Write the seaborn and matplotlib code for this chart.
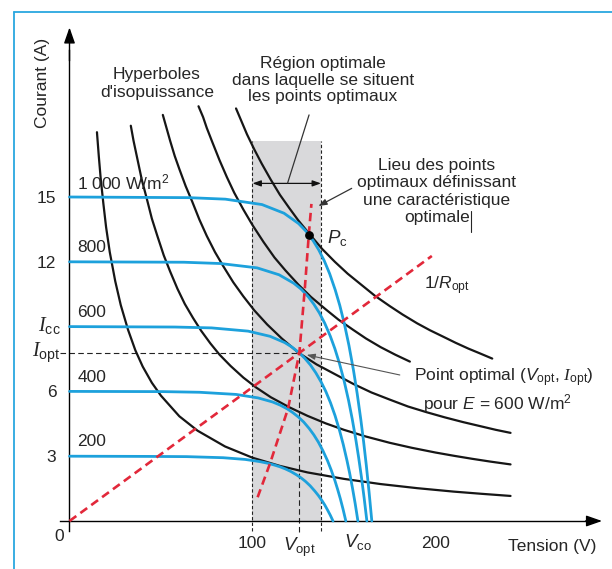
import numpy as np
import pandas as pd
import matplotlib
matplotlib.use('Agg')
import matplotlib.pyplot as plt
import seaborn as sns
from matplotlib.lines import Line2D

# ---------------- data ----------------
# I-V characteristics (voltage V, current A) for each irradiance
iv_names = ['1 000 W/m$^2$', '800', '600', '400', '200']
iv_isc = [15, 12, 9, 6, 3]
v_1000 = [0, 65.2, 85.2, 105.2, 117.2, 125.2, 129.2, 133.2, 136.2, 139.2, 142.2, 145.2, 147.7, 150.2, 152.7, 155.2, 157.2, 159.2, 160.7, 162.2, 163.7, 165.2]
i_1000 = [15, 14.97, 14.90, 14.65, 14.25, 13.77, 13.42, 12.97, 12.55, 12.05, 11.44, 10.70, 9.98, 9.13, 8.13, 6.97, 5.90, 4.69, 3.68, 2.57, 1.34, 0]
v_800 = [0, 62.5, 82.5, 102.5, 114.5, 122.5, 126.5, 130.5, 133.5, 136.5, 139.5, 142.5, 145, 147.5, 150, 152.5, 154.5, 156.5, 158, 159.5, 161, 162.5]
i_800 = [12, 11.98, 11.92, 11.72, 11.40, 11.01, 10.74, 10.38, 10.04, 9.64, 9.15, 8.56, 7.98, 7.30, 6.51, 5.58, 4.72, 3.75, 2.94, 2.05, 1.07, 0]
v_600 = [0, 57.6, 77.6, 97.6, 109.6, 117.6, 121.6, 125.6, 128.6, 131.6, 134.6, 137.6, 140.1, 142.6, 145.1, 147.6, 149.6, 151.6, 153.1, 154.6, 156.1, 157.6]
i_600 = [9, 8.98, 8.94, 8.79, 8.55, 8.26, 8.05, 7.78, 7.53, 7.23, 6.86, 6.42, 5.99, 5.48, 4.88, 4.18, 3.54, 2.81, 2.21, 1.54, 0.81, 0]
v_400 = [0, 51, 71, 91, 103, 111, 115, 119, 122, 125, 128, 131, 133.5, 136, 138.5, 141, 143, 145, 146.5, 148, 149.5, 151]
i_400 = [6, 5.99, 5.96, 5.86, 5.70, 5.51, 5.37, 5.19, 5.02, 4.82, 4.58, 4.28, 3.99, 3.65, 3.25, 2.79, 2.36, 1.88, 1.47, 1.03, 0.54, 0]
v_200 = [0, 44, 64, 84, 96, 104, 108, 112, 115, 118, 121, 124, 126.5, 129, 131.5, 134, 136, 138, 139.5, 141, 142.5, 144]
i_200 = [3, 2.99, 2.98, 2.93, 2.85, 2.75, 2.68, 2.59, 2.51, 2.41, 2.29, 2.14, 2.00, 1.83, 1.63, 1.39, 1.18, 0.94, 0.74, 0.51, 0.27, 0]

# iso-power hyperbolas
h1_v = [15, 16, 17, 18.5, 20, 22, 25, 28, 32, 36, 40, 45, 50, 60, 70, 85, 100, 115, 130, 150, 170, 190, 210, 225, 241]
h1_i = [18.0, 16.9, 15.9, 14.7, 13.6, 12.45, 11.1, 10.0, 8.85, 7.9, 7.15, 6.4, 5.8, 4.85, 4.18, 3.45, 2.93, 2.55, 2.25, 1.95, 1.71, 1.52, 1.36, 1.26, 1.16]
h2_v = [33.5, 35, 37, 39.5, 42, 45, 48, 51.5, 55, 59, 63, 67.5, 72, 77, 82, 88, 95, 102, 110, 120, 130, 140, 150, 162, 175, 187, 200, 210, 220, 230, 241]
h2_i = [18.3, 17.6, 16.8, 15.8, 15.0, 14.0, 13.2, 12.3, 11.55, 10.75, 10.05, 9.4, 8.8, 8.22, 7.7, 7.18, 6.64, 6.18, 5.73, 5.27, 4.87, 4.52, 4.22, 3.91, 3.62, 3.39, 3.17, 3.02, 2.88, 2.75, 2.62]
h3_v = [51, 53, 55, 57.5, 60, 63.5, 67, 71, 75, 79.5, 84, 89.5, 95, 101, 108, 116, 125, 135, 145, 155, 165, 175, 185, 195, 205, 215, 225, 233, 241]
h3_i = [18.8, 18.2, 17.6, 16.9, 16.3, 15.5, 14.8, 13.95, 13.2, 12.45, 11.8, 11.05, 10.4, 9.75, 9.1, 8.45, 7.8, 7.25, 6.8, 6.35, 5.95, 5.62, 5.3, 5.04, 4.8, 4.58, 4.38, 4.22, 4.08]
h4_v = [70.5, 73, 75, 78, 82, 86, 90, 95, 100, 106, 112, 118, 125, 132, 140, 147, 155, 162, 170, 178, 186]
h4_i = [19.2, 18.7, 18.2, 17.55, 16.7, 15.92, 15.2, 14.42, 13.7, 12.92, 12.2, 11.6, 10.95, 10.37, 9.8, 9.32, 8.85, 8.45, 8.05, 7.7, 7.38]
h5_v = [91, 94, 97, 101, 105, 110, 115, 120, 125, 131, 138, 145, 152, 160, 167, 175, 182, 190, 197, 205, 211, 218, 224, 231]
h5_i = [19.1, 18.5, 17.9, 17.2, 16.55, 15.8, 15.1, 14.5, 13.92, 13.3, 12.6, 12.0, 11.45, 10.9, 10.42, 9.95, 9.56, 9.15, 8.83, 8.5, 8.25, 7.98, 7.77, 7.52]

# optimal quantities
v_opt, i_opt = 125.6, 7.78
i_cc = 9
pc_v, pc_i = [130.8], [13.25]
ropt_v = [0, 198]
ropt_i = [0, 12.27]
locus_v = [102.8, 109.6, 119.4, 125.6, 128.6, 130.8, 132.2]
locus_i = [1.1, 2.67, 5.2, 7.78, 10.77, 13.3, 14.68]
region_v = [100, 137.4]
region_top = 17.6

x_ticks = [100, 200]
x_ticklabels = ['100', '200']
y_ticks = [3, 6, 12, 15]
y_ticklabels = ['3', '6', '12', '15']

# ---------------- style ----------------
sns.set_theme(style='white')
plt.rcParams['font.family'] = ['Liberation Sans', 'DejaVu Sans']
plt.rcParams['mathtext.fontset'] = 'custom'
plt.rcParams['mathtext.rm'] = 'Liberation Sans'
plt.rcParams['mathtext.it'] = 'Liberation Sans:italic'
plt.rcParams['mathtext.cal'] = 'Liberation Serif:italic'

BLUE = '#1DA1DC'
BLACK = '#161616'
RED = '#E2283A'
GRAY = '#D9D9DB'
TXT = '#262626'
FS = 12.5

fig = plt.figure(figsize=(6.12, 5.69), dpi=100)
ax = fig.add_axes([0.08366, 0.008436, 0.91201, 0.96801])
ax.set_xlim(-10, 295)
ax.set_ylim(-2, 23.5)
ax.set_facecolor('white')

# shaded optimal region
ax.fill_between(region_v, 0, region_top, color=GRAY, lw=0, zorder=0)
for xv in region_v:
    ax.plot([xv, xv], [-0.45, region_top], color='#222222', lw=0.8,
            ls=(0, (3, 2)), zorder=1)

# hyperbolas
for hv, hi in [(h1_v, h1_i), (h2_v, h2_i), (h3_v, h3_i), (h4_v, h4_i), (h5_v, h5_i)]:
    sns.lineplot(x=hv, y=hi, color=BLACK, lw=1.6, sort=False, estimator=None,
                 ax=ax, zorder=3)

# I-V curves
iv_v = [v_1000, v_800, v_600, v_400, v_200]
iv_i = [i_1000, i_800, i_600, i_400, i_200]
for vv, ii in zip(iv_v, iv_i):
    sns.lineplot(x=vv, y=ii, color=BLUE, lw=2.0, sort=False, estimator=None,
                 ax=ax, zorder=4)
for name, isc in zip(iv_names, iv_isc):
    ax.text(4.3, isc + 0.66, name, fontsize=FS, color=TXT, ha='left', va='center')

# optimal point guide lines
ax.plot([-5, v_opt], [i_opt, i_opt], color='#222222', lw=0.8, ls=(0, (5, 3)), zorder=2)
ax.plot([v_opt, v_opt], [-0.5, i_opt], color='#222222', lw=0.8, ls=(0, (5, 3)), zorder=2)

# red dashed lines
sns.lineplot(x=ropt_v, y=ropt_i, color=RED, lw=1.9, sort=False, estimator=None,
             ax=ax, zorder=5)
ax.lines[-1].set_dashes((3.2, 1.9))
sns.lineplot(x=locus_v, y=locus_i, color=RED, lw=1.9, sort=False, estimator=None,
             ax=ax, zorder=5)
ax.lines[-1].set_dashes((3.2, 1.9))

ax.scatter(pc_v, pc_i, s=28, color='black', zorder=6)

# axes lines
for s in ['top', 'right']:
    ax.spines[s].set_visible(False)
ax.spines['left'].set_position(('data', 0))
ax.spines['bottom'].set_position(('data', 0))
ax.spines['left'].set_bounds(-0.45, 21.8)
ax.spines['bottom'].set_bounds(-5.2, 284)
for s in ['left', 'bottom']:
    ax.spines[s].set_color('black')
    ax.spines[s].set_linewidth(1.0)
ax.annotate('', xy=(0, 22.85), xytext=(0, 21.3),
            arrowprops=dict(arrowstyle='-|>,head_length=0.8,head_width=0.28',
                            color='black', lw=1, mutation_scale=12,
                            shrinkA=0, shrinkB=0))
ax.annotate('', xy=(291, 0), xytext=(282, 0),
            arrowprops=dict(arrowstyle='-|>,head_length=0.8,head_width=0.28',
                            color='black', lw=1, mutation_scale=12,
                            shrinkA=0, shrinkB=0))

ax.set_xticks(x_ticks)
ax.set_xticklabels(x_ticklabels)
ax.set_yticks(y_ticks)
ax.set_yticklabels(y_ticklabels)
ax.tick_params(axis='both', direction='out', length=6, width=1, color='black',
               labelsize=FS, labelcolor=TXT)
ax.tick_params(axis='x', pad=5)
ax.tick_params(axis='y', pad=3.5)
ax.set_xlabel('')
ax.set_ylabel('')
ax.grid(False)

# axis annotations
ax.text(-5.5, -0.7, '0', fontsize=FS, color=TXT, ha='center', va='center')
ax.text(v_opt, -1.2, r'$V_{\mathrm{opt}}$', fontsize=FS + 1, color=TXT, ha='center', va='center')
ax.text(157.6, -0.95, r'$V_{\mathrm{co}}$', fontsize=FS + 1, color=TXT, ha='center', va='center')
ax.text(264, -1.2, 'Tension (V)', fontsize=FS, color=TXT, ha='center', va='center')
ax.text(-14.5, 20.3, 'Courant (A)', fontsize=FS, color=TXT, ha='center', va='center',
        rotation=90)
ax.text(-5.0, i_cc, r'$\mathcal{I}_{\mathrm{cc}}$', fontsize=FS + 2, color=TXT,
        ha='right', va='center')
ax.text(-5.0, i_opt, r'$\mathcal{I}_{\mathrm{opt}}$', fontsize=FS + 2, color=TXT,
        ha='right', va='center')

# texts
ax.text(47.8, 20.25, "Hyperboles\nd'isopuissance", fontsize=FS, color=TXT,
        ha='center', va='center', linespacing=1.2)
ax.text(138.5, 20.4, "Région optimale\ndans laquelle se situent\nles points optimaux",
        fontsize=FS, color=TXT, ha='center', va='center', linespacing=1.12)
ax.text(200.8, 15.25, "Lieu des points\noptimaux définissant\nune caractéristique\noptimale",
        fontsize=FS, color=TXT, ha='center', va='center', linespacing=1.2)
ax.plot([219.5, 219.5], [13.4, 14.35], color=TXT, lw=0.8)
ax.text(140.5, 13.1, r'$P_{\mathrm{c}}$', fontsize=FS + 1, color=TXT, ha='left', va='center')
ax.text(193.5, 10.9, r'1/$R_{\mathrm{opt}}$', fontsize=FS, color=TXT, ha='left', va='center')
ax.text(237.2, 6.62, r'Point optimal ($V_{\mathrm{opt}}$, $\mathcal{I}_{\mathrm{opt}}$)',
        fontsize=FS, color=TXT, ha='center', va='center')
ax.text(233.6, 5.45, r'pour $E$ = 600 W/m$^2$', fontsize=FS, color=TXT,
        ha='center', va='center')

# annotation arrows / leaders
ax.annotate('', xy=(100, 15.63), xytext=(137.4, 15.63),
            arrowprops=dict(arrowstyle='<|-|>,head_length=0.5,head_width=0.18',
                            color='#111111', lw=0.9, mutation_scale=10,
                            shrinkA=0, shrinkB=0), zorder=6)
ax.plot([119.2, 130.9], [15.65, 18.8], color='#333333', lw=0.9, zorder=6)
ax.annotate('', xy=(136.0, 14.58), xytext=(154.2, 15.4),
            arrowprops=dict(arrowstyle='-|>,head_length=0.5,head_width=0.18',
                            color='#333333', lw=0.9, mutation_scale=10,
                            shrinkA=0, shrinkB=0), zorder=6)
ax.annotate('', xy=(129.6, 7.69), xytext=(180.5, 6.76),
            arrowprops=dict(arrowstyle='-|>,head_length=0.5,head_width=0.18',
                            color='#555555', lw=0.8, mutation_scale=10,
                            shrinkA=0, shrinkB=0), zorder=6)

# blue frame (left and top edges)
fx = 14 / 612
fy = 1 - 12 / 569
fig.add_artist(Line2D([fx, fx], [0, fy], transform=fig.transFigure, color='#2AA7DF', lw=1.3))
fig.add_artist(Line2D([fx, 1], [fy, fy], transform=fig.transFigure, color='#2AA7DF', lw=1.3))

fig.savefig('out.png', dpi=100, facecolor='white')
